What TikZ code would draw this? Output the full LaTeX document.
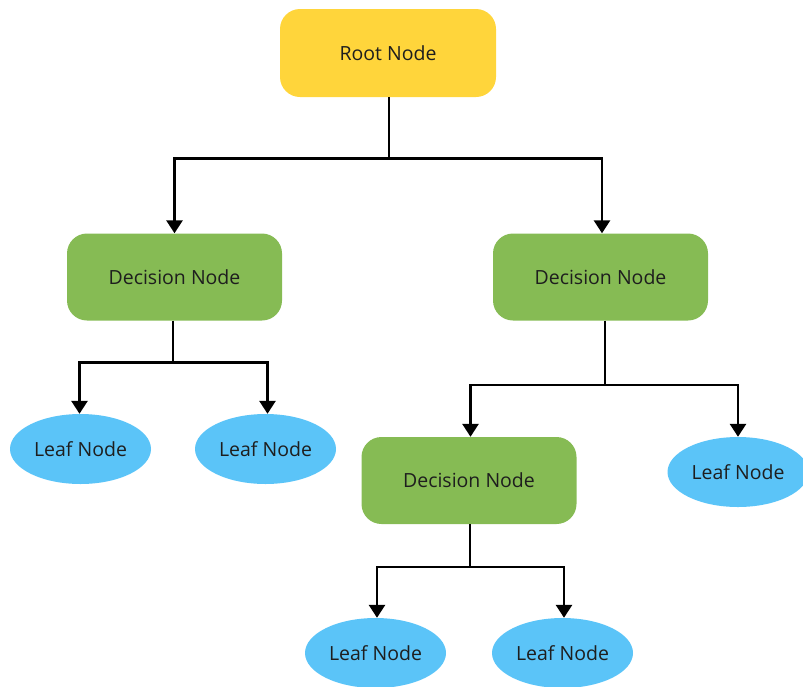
\documentclass[tikz,border=0pt]{standalone}
\usepackage{fontspec}
\setmainfont{Open Sans}
\usetikzlibrary{shapes.geometric,arrows.meta}
\definecolor{rootyellow}{RGB}{255,213,59}
\definecolor{decgreen}{RGB}{134,187,84}
\definecolor{leafblue}{RGB}{91,196,248}
\definecolor{txt}{RGB}{30,30,30}
\begin{document}
\begin{tikzpicture}[x=1pt,y=-1pt,
  box/.style={rectangle,rounded corners=20pt,minimum width=215pt,minimum height=87pt,inner sep=0pt,text=txt,font=\fontsize{19.5}{22}\selectfont},
  rootbox/.style={box,fill=rootyellow,minimum width=216pt,minimum height=88pt},
  decbox/.style={box,fill=decgreen},
  leaf/.style={ellipse,fill=leafblue,minimum width=141pt,minimum height=70pt,inner sep=0pt,text=txt,font=\fontsize{19.5}{22}\selectfont},
  conn/.style={line width=2.8pt,black},
  arr/.style={conn,-{Triangle[width=16pt,length=13pt]}}]
\useasboundingbox (0,0) rectangle (803,686);
\node[rootbox] (root) at (388,53) {Root Node};
\node[decbox] (d1) at (174.5,277) {Decision Node};
\node[decbox] (d2) at (600.5,277) {Decision Node};
\node[decbox] (d3) at (469,480.5) {Decision Node};
\node[leaf] (l1) at (80.5,449) {Leaf Node};
\node[leaf] (l2) at (265.5,449) {Leaf Node};
\node[leaf] (l3) at (738,472) {Leaf Node};
\node[leaf] (l4) at (375.5,653) {Leaf Node};
\node[leaf] (l5) at (562.5,653) {Leaf Node};
% junctions
\coordinate (j0) at (389,158.5);
\coordinate (j1) at (173,362.5);
\coordinate (j2) at (605,385);
\coordinate (j3) at (470,567);
\draw[conn] (root.south -| j0) -- (j0);
\draw[arr] (j0) -| (d1.north);
\draw[arr] (j0) -| ([xshift=1.5pt]d2.north);
\draw[conn] (d1.south -| j1) -- (j1);
\draw[arr] (j1) -| ([xshift=-1pt]l1.north);
\draw[arr] (j1) -| ([xshift=2pt]l2.north);
\draw[conn] (d2.south -| j2) -- (j2);
\draw[arr] (j2) -| ([xshift=1.5pt]d3.north);
\draw[arr] (j2) -| (l3.north);
\draw[conn] (d3.south -| j3) -- (j3);
\draw[arr] (j3) -| ([xshift=1.5pt]l4.north);
\draw[arr] (j3) -| ([xshift=1.5pt]l5.north);
\end{tikzpicture}
\end{document}
